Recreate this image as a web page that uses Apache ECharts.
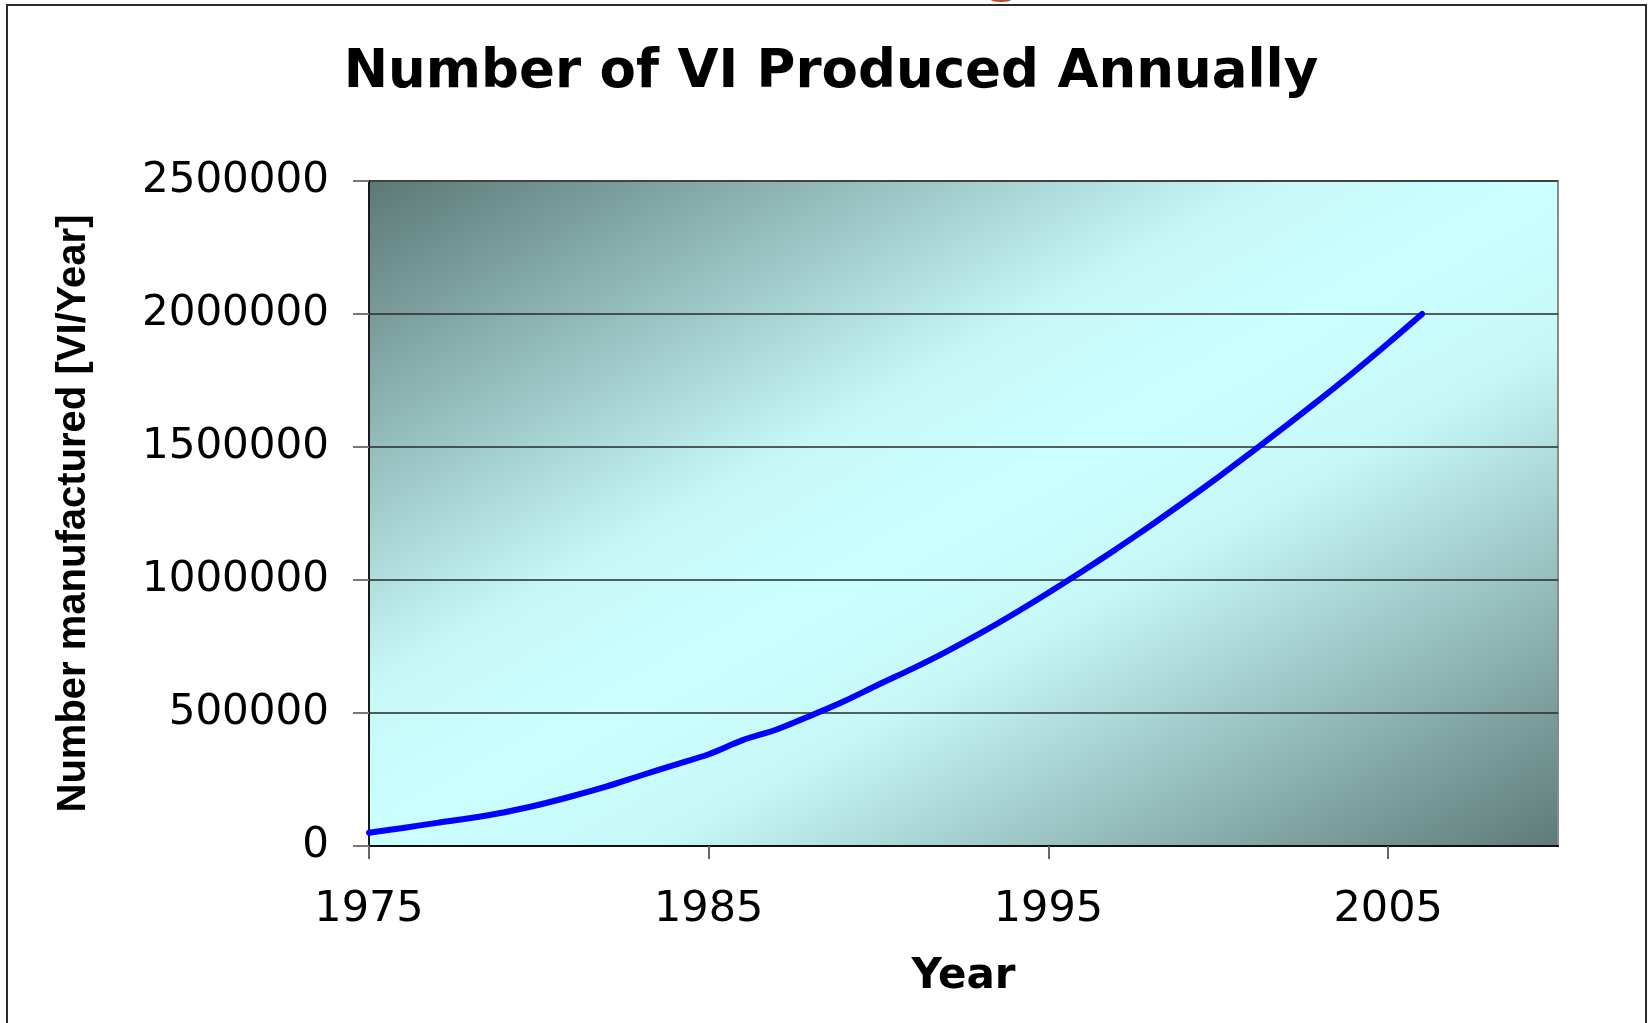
<!DOCTYPE html>
<html>
<head>
<meta charset="utf-8">
<title>Number of VI Produced Annually</title>
<script src="https://cdn.jsdelivr.net/npm/echarts@6/dist/echarts.min.js"></script>
<style>
  html, body { margin: 0; padding: 0; background: #fff; }
  #chart { width: 1650px; height: 1023px; }
</style>
</head>
<body>
<div id="chart"></div>
<script>
// values
const years = [1975, 1976, 1977, 1978, 1979, 1980, 1981, 1982, 1983, 1984,
               1985, 1986, 1987, 1988, 1989, 1990, 1991, 1992, 1993, 1994,
               1995, 1996, 1997, 1998, 1999, 2000, 2001, 2002, 2003, 2004,
               2005, 2006];
const produced = [50000, 68000, 87000, 105000, 127000, 155000, 188000, 224000, 265000, 305000,
                  345000, 398000, 438000, 490000, 545000, 607000, 667000, 731000, 800000, 874000,
                  952000, 1033000, 1117000, 1204000, 1294000, 1387000, 1483000, 1580000, 1680000, 1783000,
                  1890000, 2000000];
const yearTicks = [1975, 1985, 1995, 2005];

const chart = echarts.init(document.getElementById("chart"));

chart.setOption({
  animation: false,
  backgroundColor: "#fff",
  title: {
    text: "Number of VI Produced Annually",
    left: 826,
    textAlign: "center",
    top: 42,
    textStyle: {
      fontFamily: "DejaVu Sans",
      fontSize: 53,
      fontWeight: "bold",
      color: "#000"
    }
  },
  grid: {
    left: 369,
    right: 92,
    top: 181,
    bottom: 177,
    containLabel: false,
    show: true,
    borderColor: "#8a8a8a",
    borderWidth: 2,
    // dark corners, light band along the anti-diagonal
    backgroundColor: {
      type: "linear",
      x: 0, y: 0, x2: 0.477, y2: 1.523,
      colorStops: [
        { offset: 0, color: "#5b7876" },
        { offset: 0.38, color: "#c6f8f8" },
        { offset: 0.5, color: "#ccffff" },
        { offset: 0.62, color: "#c6f8f8" },
        { offset: 1, color: "#5e7a78" }
      ]
    }
  },
  xAxis: {
    type: "value",
    min: 1975,
    max: 2010,
    name: "Year",
    nameLocation: "middle",
    nameGap: 110,
    nameTextStyle: {
      fontFamily: "DejaVu Sans",
      fontSize: 42,
      fontWeight: "bold",
      color: "#000"
    },
    axisLine: { show: true, lineStyle: { color: "#111", width: 2 } },
    axisTick: {
      show: true,
      length: 13,
      customValues: yearTicks,
      lineStyle: { color: "#666", width: 2 }
    },
    axisLabel: {
      customValues: yearTicks,
      formatter: (v) => String(v),
      fontFamily: "DejaVu Sans",
      fontSize: 43,
      color: "#000",
      margin: 42
    },
    splitLine: { show: false }
  },
  yAxis: {
    type: "value",
    min: 0,
    max: 2500000,
    interval: 500000,
    name: "Number manufactured [VI/Year]",
    nameLocation: "middle",
    nameGap: 275,
    nameTextStyle: {
      fontFamily: "Liberation Sans",
      fontSize: 40,
      fontWeight: "bold",
      color: "#000"
    },
    axisLine: { show: true, lineStyle: { color: "#1a1a1a", width: 2 } },
    axisTick: { show: true, length: 16, lineStyle: { color: "#777", width: 2 } },
    axisLabel: {
      formatter: (v) => String(v),
      fontFamily: "DejaVu Sans",
      fontSize: 42,
      color: "#000",
      margin: 40,
      padding: [14, 0, 0, 0]
    },
    splitLine: { show: true, lineStyle: { color: "#2a2a2a", width: 1.5 } }
  },
  series: [
    {
      type: "line",
      data: years.map((y, i) => [y, produced[i]]),
      smooth: 0.3,
      showSymbol: false,
      lineStyle: { color: "#0000ff", width: 6, cap: "round" }
    }
  ],
  graphic: [
    {
      type: "rect",
      shape: { x: 7, y: 5, width: 1639, height: 1040 },
      style: { fill: null, stroke: "#2b2b2b", lineWidth: 2 },
      z: 10
    },
    {
      // bit of orange lettering cut off at the top edge
      type: "ellipse",
      shape: { cx: 1001, cy: -1, rx: 11, ry: 3 },
      style: { fill: "#c04a10" },
      z: 11
    }
  ]
});
</script>
</body>
</html>
